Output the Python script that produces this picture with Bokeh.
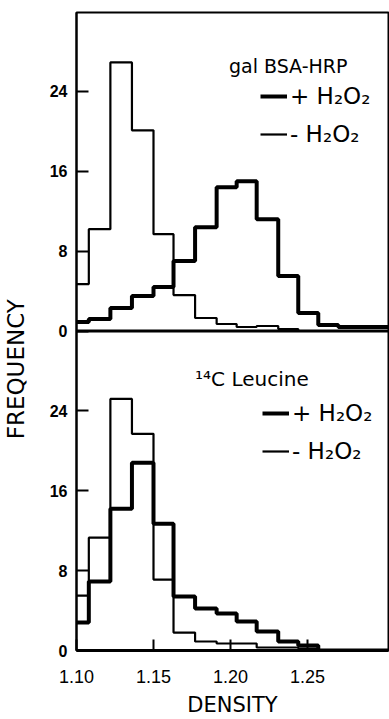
import math
from bokeh.plotting import figure
from bokeh.layouts import row
from bokeh.models import Range1d, FixedTicker, Label, Legend, LegendItem, Span
from bokeh.embed import file_html
from bokeh.resources import INLINE

# Bin edges (density)
edges = [1.100, 1.108, 1.122, 1.136, 1.150, 1.163, 1.177, 1.191, 1.204,
         1.217, 1.231, 1.244, 1.257, 1.270, 1.3026]

# Top panel: gal BSA-HRP
top_plus = [0.9, 1.2, 2.3, 3.5, 4.4, 7.0, 10.4, 14.4, 15.0, 11.2, 5.5, 1.8, 0.6, 0.4]
top_minus = [4.7, 10.2, 26.9, 20.1, 9.7, 3.6, 1.3, 0.7, 0.4, 0.5, 0.2, 0.0, 0.0, 0.0]

# Bottom panel: 14C Leucine
bot_plus = [2.8, 6.9, 14.2, 18.8, 12.7, 5.4, 4.2, 3.7, 2.9, 1.9, 0.9, 0.5, 0.0, 0.0]
bot_minus = [5.5, 11.3, 25.2, 21.7, 7.1, 1.8, 0.9, 0.7, 0.7, 0.3, 0.3, 0.2, 0.0, 0.0]

y_ticks = [0, 8, 16, 24]
x_ticks = [1.10, 1.15, 1.20, 1.25]
x_tick_labels = {1.10: "1.10", 1.15: "1.15", 1.20: "1.20", 1.25: "1.25"}

BOT_SPAN = 32.0   # frequency span of the lower panel
TOP_SPAN = 31.9   # frequency span of the upper panel

TICK_FONT = "Liberation Sans"
TEXT_FONT = "DejaVu Sans"

STRIP_W = 30

# ---------- main figure (both panels share one frame) ----------
p = figure(width=389 - STRIP_W, height=719,
           x_range=Range1d(edges[0], edges[-1]),
           y_range=Range1d(0, BOT_SPAN + TOP_SPAN),
           min_border_left=76 - STRIP_W, min_border_right=1,
           min_border_top=12, min_border_bottom=68,
           output_backend="svg", toolbar_location=None)
p.extra_y_ranges = {"top": Range1d(-BOT_SPAN, TOP_SPAN)}
p.grid.visible = False
p.outline_line_color = "black"
p.outline_line_width = 2
p.background_fill_color = "white"
p.border_fill_color = "white"

# y axis: lower panel ticks plus the same ticks shifted for the upper panel
ya = p.yaxis[0]
all_ticks = y_ticks + [int(BOT_SPAN) + t for t in y_ticks]
ya.ticker = FixedTicker(ticks=all_ticks)
ya.major_label_overrides = {int(BOT_SPAN) + t: str(t) for t in y_ticks}
ya.minor_tick_line_color = None
ya.major_tick_in = 12
ya.major_tick_out = 0
ya.major_tick_line_width = 2
ya.axis_line_width = 2
ya.major_label_standoff = 9
ya.major_label_text_font = TICK_FONT
ya.major_label_text_font_style = "bold"
ya.major_label_text_font_size = "16px"
ya.major_label_text_color = "black"

xa = p.xaxis[0]
xa.ticker = FixedTicker(ticks=x_ticks)
xa.major_label_overrides = x_tick_labels
xa.minor_tick_line_color = None
xa.major_tick_in = 11
xa.major_tick_out = 0
xa.major_tick_line_width = 2
xa.axis_line_width = 3
xa.major_label_standoff = 19
xa.major_label_text_font = TICK_FONT
xa.major_label_text_font_size = "18px"
xa.major_label_text_color = "black"
xa.axis_label = "DENSITY"
xa.axis_label_text_font = TEXT_FONT
xa.axis_label_text_font_style = "normal"
xa.axis_label_text_font_size = "21px"
xa.axis_label_standoff = 7
xa.axis_label_text_color = "black"

# divider between panels
p.add_layout(Span(location=BOT_SPAN, dimension="width", line_color="black",
                  line_width=3))


def add_steps(plus, minus, **kw):
    r_plus = p.step(edges, plus + [plus[-1]], mode="after",
                    line_color="black", line_width=4, **kw)
    r_minus = p.step(edges, minus + [minus[-1]], mode="after",
                     line_color="black", line_width=2.2, **kw)
    return r_plus, r_minus


def add_legend(r_plus, r_minus, loc):
    leg = Legend(items=[LegendItem(label="+ H\u2082O\u2082", renderers=[r_plus]),
                        LegendItem(label="- H\u2082O\u2082", renderers=[r_minus])],
                 location=loc)
    leg.border_line_color = None
    leg.background_fill_alpha = 0
    leg.padding = 0
    leg.margin = 0
    leg.spacing = 12
    leg.glyph_width = 27
    leg.label_standoff = 3
    leg.label_text_font = TEXT_FONT
    leg.label_text_font_size = "23px"
    leg.label_text_color = "black"
    p.add_layout(leg)


# upper panel
rp, rm = add_steps(top_plus, top_minus, y_range_name="top")
add_legend(rp, rm, (184, 503))
p.add_layout(Label(x=1.199, y=26.5, y_range_name="top", text="gal BSA-HRP",
                   text_align="left", text_baseline="middle",
                   text_font=TEXT_FONT, text_font_size="19px",
                   text_color="black"))

# lower panel
rp2, rm2 = add_steps(bot_plus, bot_minus)
add_legend(rp2, rm2, (186, 186))
p.add_layout(Label(x=1.177, y=27.2, text="\u00b9\u2074C Leucine",
                   text_align="left", text_baseline="middle",
                   text_font=TEXT_FONT, text_font_size="20px",
                   text_color="black"))

# ---------- narrow strip holding the shared y-axis title ----------
lab = figure(width=STRIP_W, height=719, x_range=Range1d(0, STRIP_W),
             y_range=Range1d(0, 719),
             x_axis_location=None, y_axis_location=None,
             min_border_left=0, min_border_right=0,
             min_border_top=0, min_border_bottom=0,
             output_backend="svg", toolbar_location=None)
lab.grid.visible = False
lab.outline_line_color = None
lab.background_fill_color = "white"
lab.border_fill_color = "white"
lab.add_layout(Label(x=15, y=317, text="FREQUENCY", angle=math.pi / 2,
                     text_align="center", text_baseline="middle",
                     text_font=TEXT_FONT, text_font_size="23px",
                     text_color="black"))

layout = row(lab, p, spacing=0)
open("out.html", "w").write(file_html(layout, INLINE))
